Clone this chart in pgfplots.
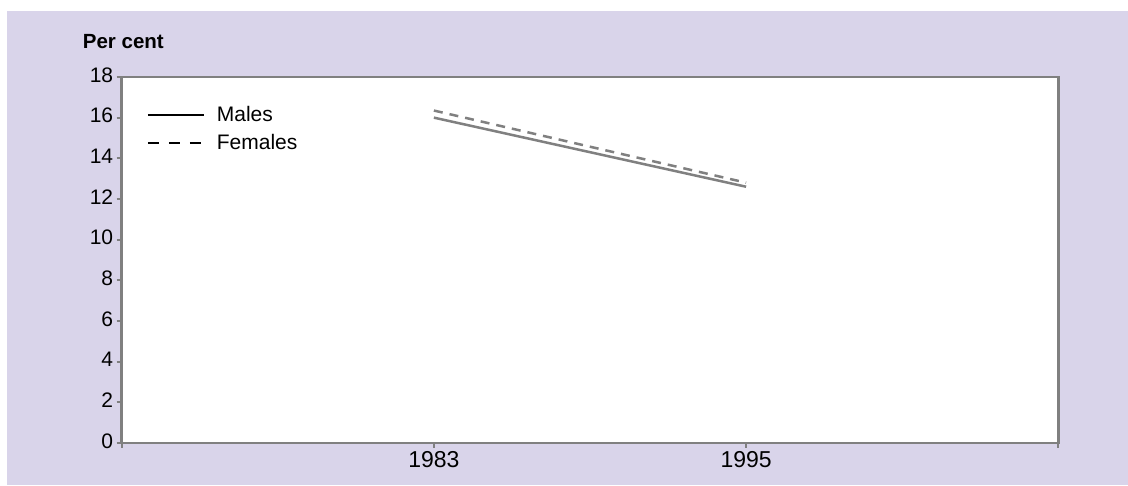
\documentclass[border=0pt]{standalone}
\usepackage{pgfplots}
\pgfplotsset{compat=1.18}
\usepackage{fontspec}
\setmainfont{Liberation Sans}
\definecolor{bg}{RGB}{217,212,234}
\definecolor{ln}{RGB}{128,128,128}
\begin{document}
\begin{tikzpicture}
\useasboundingbox (0,0) rectangle (1128pt,485pt);
\fill[white] (0,0) rectangle (1128pt,485pt);
\fill[bg] (7pt,0) rectangle (1128pt,474pt);
\node[anchor=base west, font=\bfseries\fontsize{20.5}{24}\selectfont, inner sep=0pt] at (82.7pt,436.7pt) {Per cent};
\begin{axis}[
  at={(121.7pt,42.2pt)}, anchor=south west,
  scale only axis, width=936.6pt, height=365.8pt,
  xmin=1971, xmax=2007, ymin=0, ymax=18,
  xtick={1971,1983,1995,2007}, xticklabels={,1983,1995,},
  ytick={0,2,...,18},
  tick align=outside, tick pos=left,
  major tick length=5pt,
  axis line style={draw=ln, line width=2.5pt},
  tick style={draw=ln, line width=2pt},
  axis background/.style={fill=white},
  /pgf/number format/assume math mode=true,
  /pgf/number format/1000 sep={},
  yticklabel style={font=\fontsize{21}{24}\selectfont, yshift=2pt},
  xticklabel style={font=\fontsize{23}{26}\selectfont},
  legend image code/.code={\draw[#1] (0pt,0pt) -- (56pt,0pt);},
  legend style={at={(0.0267,0.925)}, anchor=north west, draw=none, fill=none,
    inner sep=0pt, font=\fontsize{21}{24}\selectfont, row sep=7pt,
    nodes={inner sep=2pt},
    /tikz/every odd column/.append style={column sep=10pt}},
  legend cell align=left,
]
\addplot[ln, line width=2.5pt, forget plot] coordinates {(1983,16.0) (1989,14.3) (1995,12.6)};
\addplot[ln, line width=2.5pt, dash pattern=on 9pt off 7pt, forget plot] coordinates {(1983,16.35) (1989,14.57) (1995,12.8)};
\addlegendimage{black, line width=2pt}
\addlegendentry{Males}
\addlegendimage{black, line width=2pt, dash pattern=on 11pt off 10pt}
\addlegendentry{Females}
\end{axis}
\end{tikzpicture}
\end{document}
